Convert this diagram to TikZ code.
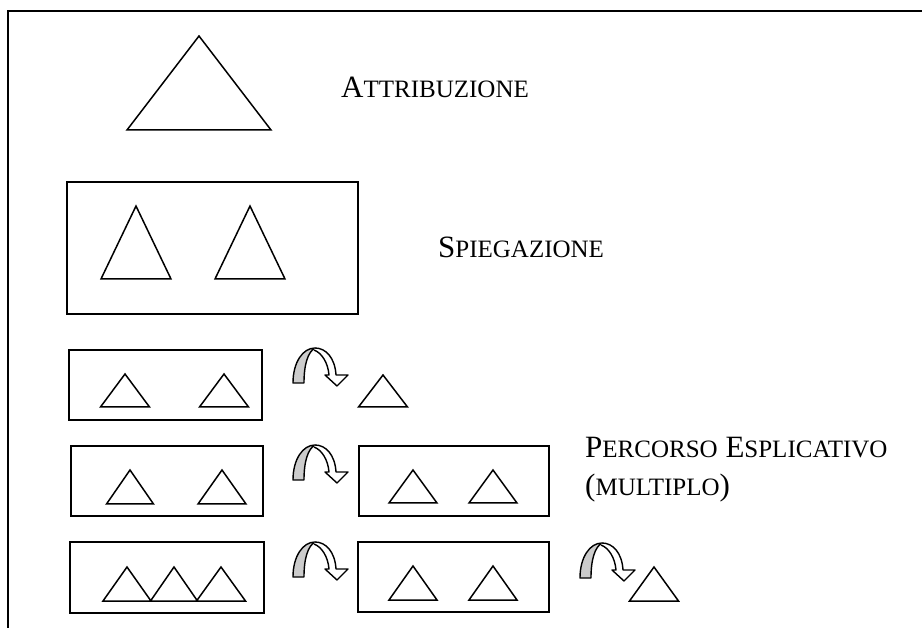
\documentclass[tikz,border=0pt]{standalone}
\usepackage{fontspec}
\setmainfont{Liberation Serif}
\newcommand\SC[1]{{\fontsize{25}{30}\selectfont #1}}
\newcommand\mytri[4]{\draw[shp] (#1,#2) -- ++(#3,#4) -- ++({-2*#3},0) -- cycle;}
\newcommand\myarrow[2]{%
  \begin{scope}[shift={(#1,#2)}]
    \draw[arw, fill=gray!40] (0,35) .. controls (0,14) and (10,0) .. (22,0)
      .. controls (15,4) and (11,16) .. (11,35) -- cycle;
    \draw[arw, fill=white] (22,0) .. controls (33,0) and (42,10) .. (43,27)
      -- (55,27) -- (44,38) -- (32,27) -- (36,27)
      .. controls (35,15) and (29,5) .. (21,2);
  \end{scope}}
\begin{document}
\begin{tikzpicture}[x=1pt,y=-1pt,
  shp/.style={draw=black, line width=1.5pt, line join=miter},
  arw/.style={draw=black, line width=1.4pt, line join=round},
  frame/.style={draw=black, line width=2pt},
  lbl/.style={anchor=base west, inner sep=0pt, font=\fontsize{31}{39}\selectfont}]
\useasboundingbox (0,0) rectangle (922,628);
% frame
\draw[frame] (8,640) -- (8,11) -- (930,11);
% attribuzione
\mytri{199}{36}{72}{94}
\node[lbl] (attr) at (341,98) {A\SC{TTRIBUZIONE}};
% spiegazione
\draw[shp] (67,182) rectangle (358,314);
\mytri{136}{206}{35}{73}
\mytri{250}{206}{35}{73}
\node[lbl] (spieg) at (438,258) {S\SC{PIEGAZIONE}};
% row 3
\draw[shp] (69,350) rectangle (262,420);
\mytri{125}{374}{24.5}{33}
\mytri{224}{374}{24.5}{33}
\myarrow{293}{348}
\mytri{383}{375}{24.5}{32}
% row 4
\draw[shp] (71,446) rectangle (263,516);
\mytri{130}{470}{23.5}{34}
\mytri{222}{470}{24}{34}
\myarrow{293}{445}
\draw[shp] (359,446) rectangle (549,516);
\mytri{413}{470}{24}{33}
\mytri{493}{470}{24}{33}
\node[lbl] (perc) at (585,457) {P\SC{ERCORSO} E\SC{SPLICATIVO}};
\node[lbl] (mult) at (585,496) {(\SC{MULTIPLO})};
% row 5
\draw[shp] (70,542) rectangle (264,613);
\mytri{127}{567}{24}{34}
\mytri{174}{567}{23.5}{34}
\mytri{221}{567}{24.5}{34}
\myarrow{293}{542}
\draw[shp] (358,542) rectangle (549,612);
\mytri{413}{566}{24}{34}
\mytri{493}{566}{24}{34}
\myarrow{580}{543}
\mytri{654}{567}{24.5}{34}
\end{tikzpicture}
\end{document}
